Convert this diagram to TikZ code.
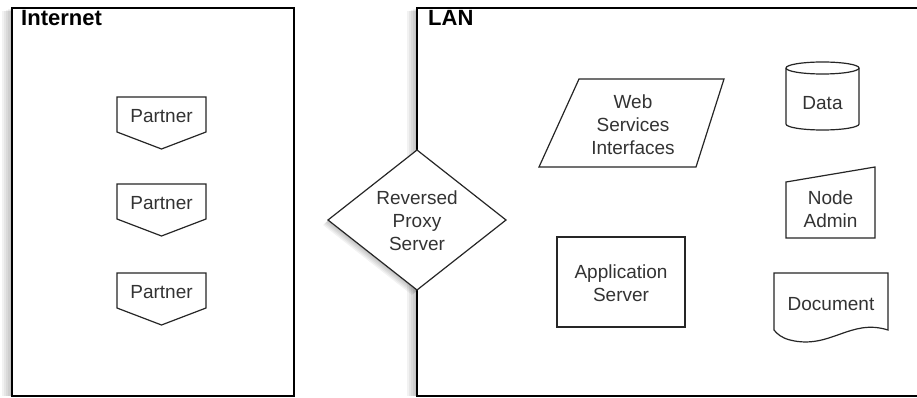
\documentclass[tikz,border=0pt]{standalone}
\usepackage{fontspec}
\setmainfont{Liberation Sans}
\begin{document}
\begin{tikzpicture}[x=1pt,y=-1pt,
  container/.style={draw=black,line width=1.6pt,fill=white},
  figure/.style={draw=black!85,line width=1.2pt,fill=white},
  haze/.style={fill=black,opacity=0.05,draw=none},
  title/.style={anchor=north west,inner sep=0pt,font=\fontsize{22}{24}\selectfont\bfseries},
  label/.style={align=center,inner sep=0pt,text=black!80,font=\fontsize{19}{23}\selectfont}]
\useasboundingbox (0,0) rectangle (917,398);
\clip (0,0) rectangle (917,398);

% soft shadows to the left of the zones and the proxy
\foreach \d in {2,4,6,8,10}{
  \path[haze] (12-\d,8+\d/3) rectangle (294-\d,396);
  \path[haze] (417-\d,8+\d/3) rectangle (930,396);
  \path[haze] (417-\d/2,150+\d/2) -- (506-\d/2,220+\d/2) -- (417-\d/2,290+\d/2) -- (328-\d/2,220+\d/2) -- cycle;
}

% the two zones
\path[container] (12,8) rectangle (294,396);
\node[title] (inet) at (21,10) {Internet};
\path[container] (417,8) rectangle (930,396);
\node[title] (lan) at (428,10) {LAN};

% partners on the internet side
\foreach \i/\y in {1/97,2/184,3/273}{
  \draw[figure] (117,\y) -- (206,\y) -- (206,\y+35) -- (161.5,\y+52) -- (117,\y+35) -- cycle;
  \node[label] (partner\i) at (161.5,\y+19) {Partner};
}

% reverse proxy on the boundary
\draw[figure] (417,150) -- (506,220) -- (417,290) -- (328,220) -- cycle;
\node[label] (proxy) at (417,221) {Reversed\\Proxy\\Server};

% web services interfaces
\draw[figure] (579,79) -- (724,79) -- (696,167) -- (539,167) -- cycle;
\node[label] (ws) at (633,125) {Web\\Services\\Interfaces};

% application server
\draw[figure] (557,237) rectangle (685,327);
\node[label] (app) at (621,283) {Application\\Server};

% data store (y grows downward here, so +90 degrees is the lower rim)
\draw[figure] (786,68) -- (786,124) arc[start angle=180,end angle=0,x radius=36.5,y radius=6]
  -- (859,68) arc[start angle=0,end angle=-180,x radius=36.5,y radius=6] -- cycle;
\draw[figure,fill=none] (786,68) arc[start angle=180,end angle=0,x radius=36.5,y radius=6];
\node[label] (data) at (822.5,103) {Data};

% node admin (manual input)
\draw[figure] (786,182) -- (875,167) -- (875,238) -- (786,238) -- cycle;
\node[label] (admin) at (830.5,209) {Node\\Admin};

% document
\draw[figure] (774,273) -- (888,273) -- (888,330)
  .. controls (850,318) and (830,350) .. (790,340)
  .. controls (782,338) and (777,334) .. (774,330) -- cycle;
\node[label] (doc) at (831,304) {Document};
\end{tikzpicture}
\end{document}
